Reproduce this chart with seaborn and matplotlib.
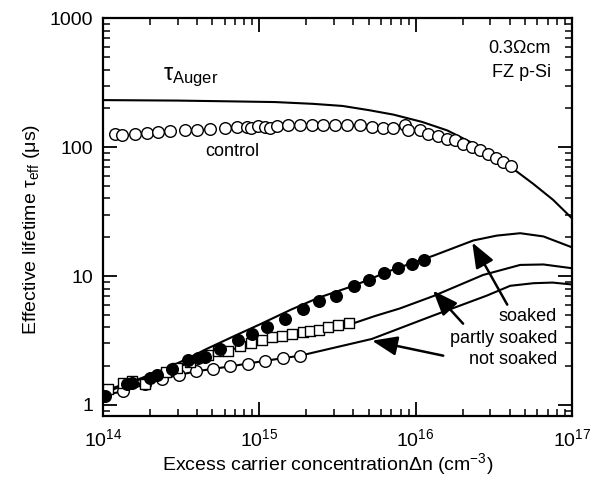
import numpy as np
import pandas as pd
import seaborn as sns
import matplotlib.pyplot as plt

# Auger limit (solid line)
auger_n = [1e14, 3e14, 6.3e14, 1.26e15, 2.2e15, 3.4e15, 5e15, 7.2e15, 1.1e16,
           1.59e16, 2.13e16, 2.99e16, 4.2e16, 5.64e16, 7.57e16, 1e17]
auger_tau = [232, 230, 227, 224, 217, 209, 194, 179, 157, 135, 113, 92, 68, 52, 39, 28]

# control sample (open circles)
control_n = [1.19e14, 1.32e14, 1.60e14, 1.90e14, 2.26e14, 2.69e14, 3.35e14, 3.98e14,
             4.84e14, 6.04e14, 7.17e14, 8.3e14, 8.9e14, 9.86e14, 1.09e15, 1.17e15,
             1.29e15, 1.53e15, 1.82e15, 2.16e15, 2.57e15, 3.05e15, 3.62e15, 4.41e15,
             5.24e15, 6.21e15, 7.2e15, 8.55e15, 8.98e15, 1.07e16, 1.2e16, 1.38e16,
             1.58e16, 1.79e16, 2.02e16, 2.28e16, 2.58e16, 2.92e16, 3.27e16, 3.64e16, 4.08e16]
control_tau = [127.5, 123.8, 127.5, 128.9, 131.3, 132.9, 137, 137, 139.5, 142, 143.6,
               143.6, 141, 146.2, 143.6, 141, 146.2, 148, 148, 148, 148, 148, 148, 148,
               143.6, 141, 141, 148, 137, 135.3, 127.5, 122.2, 116.6, 113.1, 106.7,
               100.4, 95.8, 89.2, 83, 76.7, 71]

# soaked: fit line and data (filled circles)
soaked_fit_n = [1e14, 1.5e14, 2.5e14, 3.5e14, 4.6e14, 7e14, 1e15, 1.6e15, 2.4e15,
                4e15, 7e15, 1.3e16, 2.34e16, 3.3e16, 4.66e16, 6.56e16, 1e17]
soaked_fit_tau = [1.22, 1.5, 1.9, 2.3, 2.72, 3.45, 4.2, 5.5, 6.8, 8.4, 11.1, 14.4,
                  18.9, 20.6, 21.5, 20.3, 16.7]
soaked_n = [1.03e14, 1.42e14, 1.53e14, 2.0e14, 2.21e14, 2.75e14, 3.51e14, 4.07e14,
            4.49e14, 5.6e14, 7.34e14, 8.94e14, 1.115e15, 1.46e15, 1.91e15, 2.42e15,
            3.10e15, 4.05e15, 5.03e15, 6.31e15, 7.75e15, 9.44e15, 1.137e16]
soaked_tau = [1.17, 1.46, 1.49, 1.63, 1.71, 1.90, 2.23, 2.31, 2.37, 2.72, 3.19, 3.55,
              4.0, 4.65, 5.58, 6.37, 7.05, 8.33, 9.34, 10.5, 11.6, 12.4, 13.4]

# partly soaked: fit line and data (open squares)
partly_fit_n = [1e14, 1.5e14, 2.5e14, 3.6e14, 6.3e14, 1e15, 1.6e15, 2.4e15, 4e15,
                5.5e15, 7.9e15, 1.3e16, 2.7e16, 4.66e16, 6.56e16, 1e17]
partly_fit_tau = [1.28, 1.5, 1.8, 2.14, 2.63, 3.15, 3.55, 3.85, 4.3, 4.9, 5.6, 7.0,
                  10.2, 12.2, 12.3, 11.5]
partly_n = [1.08e14, 1.35e14, 1.53e14, 1.86e14, 2.53e14, 2.97e14, 3.60e14, 4.72e14,
            5.47e14, 6.33e14, 7.52e14, 8.85e14, 1.04e15, 1.21e15, 1.40e15, 1.62e15,
            1.91e15, 2.11e15, 2.39e15, 2.76e15, 3.20e15, 3.77e15]
partly_tau = [1.33, 1.49, 1.53, 1.46, 1.81, 1.94, 2.14, 2.45, 2.63, 2.63, 2.86, 3.04,
              3.18, 3.36, 3.45, 3.56, 3.66, 3.72, 3.82, 4.0, 4.2, 4.3]

# not soaked: fit line and data (open circles)
not_fit_n = [1e14, 1.35e14, 2.4e14, 3.9e14, 6.5e14, 1.09e15, 1.82e15, 5.24e15,
             1.29e16, 2.85e16, 4.02e16, 5.66e16, 7.5e16, 1e17]
not_fit_tau = [1.18, 1.28, 1.6, 1.82, 1.99, 2.2, 2.41, 3.25, 4.93, 7.05, 8.4, 8.8, 8.9, 8.6]
not_n = [1.35e14, 1.86e14, 2.39e14, 3.06e14, 3.94e14, 5.08e14, 6.49e14, 8.41e14,
         1.09e15, 1.42e15, 1.82e15]
not_tau = [1.28, 1.45, 1.60, 1.71, 1.82, 1.90, 1.99, 2.09, 2.20, 2.30, 2.41]

y_ticks = [1, 10, 100, 1000]
y_tick_labels = ["1", "10", "100", "1000"]

sns.set_style("ticks", rc={"axes.edgecolor": "black", "text.color": "black",
                           "axes.labelcolor": "black", "xtick.color": "black",
                           "ytick.color": "black"})
plt.rcParams['font.family'] = ['Liberation Sans', 'DejaVu Sans']
plt.rcParams['mathtext.fontset'] = 'custom'
plt.rcParams['mathtext.rm'] = 'Liberation Sans'
plt.rcParams['mathtext.it'] = 'Liberation Sans:italic'

fig = plt.figure(figsize=(5.99, 4.8), dpi=100)
ax = fig.add_axes([0.172, 0.1333, 0.783, 0.8285])

line_kw = dict(color="black", linewidth=1.5, estimator=None, sort=False, ax=ax, zorder=2)
sns.lineplot(x=auger_n, y=auger_tau, **line_kw)
sns.lineplot(x=soaked_fit_n, y=soaked_fit_tau, **line_kw)
sns.lineplot(x=partly_fit_n, y=partly_fit_tau, **line_kw)
sns.lineplot(x=not_fit_n, y=not_fit_tau, **line_kw)

sns.scatterplot(x=control_n, y=control_tau, marker="o", s=70, facecolor="white",
                edgecolor="black", linewidth=1.0, ax=ax, zorder=3)
sns.scatterplot(x=not_n, y=not_tau, marker="o", s=70, facecolor="white",
                edgecolor="black", linewidth=1.0, ax=ax, zorder=3)
sns.scatterplot(x=partly_n, y=partly_tau, marker="s", s=48, facecolor="white",
                edgecolor="black", linewidth=1.0, ax=ax, zorder=4)
sns.scatterplot(x=soaked_n, y=soaked_tau, marker="o", s=70, color="black",
                edgecolor="black", linewidth=1.0, ax=ax, zorder=5)

ax.set_xscale("log")
ax.set_yscale("log")
ax.set_xlim(1e14, 1e17)
ax.set_ylim(0.82, 1000)
ax.set_yticks(y_ticks)
ax.set_yticklabels(y_tick_labels)

for s in ax.spines.values():
    s.set_linewidth(1.6)
ax.tick_params(which="both", direction="in", top=True, right=True, labelsize=14)
ax.tick_params(which="major", length=10, width=1.3)
ax.tick_params(which="minor", length=5, width=1.1)
ax.tick_params(axis="x", which="major", pad=9)
ax.tick_params(axis="y", which="major", pad=7)

ax.set_xlabel("Excess carrier concentration\u0394n (cm$^{-3}$)", fontsize=14)
ax.xaxis.set_label_coords(0.48, -0.088)
ax.set_ylabel("Effective lifetime \u03c4$_{\\rm eff}$ (\u03bcs)", fontsize=14)
ax.yaxis.set_label_coords(-0.13, 0.47)

ax.text(0.128, 0.845, "\u03c4$_{\\rm Auger}$", transform=ax.transAxes, fontsize=17,
        ha="left", va="baseline")
ax.text(0.275, 0.664, "control", transform=ax.transAxes, fontsize=13, ha="center", va="center")
ax.text(0.955, 0.925, "0.3\u03a9cm", transform=ax.transAxes, fontsize=13, ha="right", va="center")
ax.text(0.955, 0.865, "FZ p-Si", transform=ax.transAxes, fontsize=13, ha="right", va="center")
ax.text(0.968, 0.251, "soaked", transform=ax.transAxes, fontsize=13, ha="right", va="center")
ax.text(0.968, 0.194, "partly soaked", transform=ax.transAxes, fontsize=13, ha="right", va="center")
ax.text(0.968, 0.143, "not soaked", transform=ax.transAxes, fontsize=13, ha="right", va="center")

arrow_kw = dict(arrowstyle="-|>,head_length=0.9,head_width=0.35", color="black",
                lw=1.8, mutation_scale=17, shrinkA=0, shrinkB=0)
ax.annotate("", xy=(2.30e16, 18.2), xytext=(3.85e16, 6.0), arrowprops=arrow_kw)
ax.annotate("", xy=(1.29e16, 7.71), xytext=(2.01e16, 4.27), arrowprops=arrow_kw)
ax.annotate("", xy=(5.26e15, 3.15), xytext=(1.50e16, 2.41), arrowprops=arrow_kw)

fig.savefig("out.png", dpi=100)
